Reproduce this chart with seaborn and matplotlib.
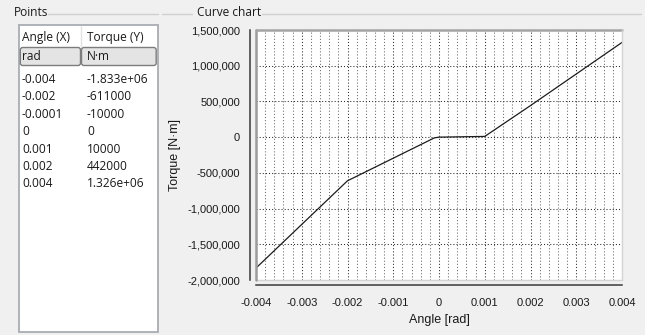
import matplotlib
matplotlib.use("Agg")
import matplotlib.pyplot as plt
from matplotlib.patches import Rectangle, FancyBboxPatch
from matplotlib.lines import Line2D
from matplotlib.ticker import MultipleLocator, FuncFormatter
from matplotlib.transforms import Affine2D
import pandas as pd
import seaborn as sns

# Torque curve points
angle = [-0.004, -0.002, -0.0001, 0, 0.001, 0.002, 0.004]
torque = [-1833000, -611000, -10000, 0, 10000, 442000, 1326000]

column_titles = ["Angle (X)", "Torque (Y)"]
column_units = ["rad", "N·m"]

x_ticks = [-0.004, -0.003, -0.002, -0.001, 0, 0.001, 0.002, 0.003, 0.004]
x_tick_labels = ["-0.004", "-0.003", "-0.002", "-0.001", "0",
                 "0.001", "0.002", "0.003", "0.004"]
y_ticks = [-2000000, -1500000, -1000000, -500000, 0, 500000, 1000000, 1500000]

W, H = 645, 335
sns.set_style("white")
plt.rcParams["font.family"] = ["Liberation Sans", "DejaVu Sans"]
UI_FONT = ["Open Sans", "DejaVu Sans"]
UI_SIZE = 8.6

fig = plt.figure(figsize=(W / 100, H / 100), dpi=100, facecolor="#f0f0f0")
# pixel coordinates measured from the top-left corner
pix = Affine2D().scale(1, -1).translate(0, H)


def ui_text(x, y, s, **kw):
    kw.setdefault("fontsize", UI_SIZE)
    kw.setdefault("family", UI_FONT)
    kw.setdefault("va", "center")
    kw.setdefault("color", "#1a1a1a")
    fig.text(x, y, s, transform=pix, **kw)


def ui_line(xs, ys, color, lw=1.0):
    fig.add_artist(Line2D(xs, ys, transform=pix, color=color, lw=lw))


# ---- group box headers ----
ui_text(14, 13, "Points")
ui_line([48, 158], [13.5, 13.5], "#d0d0d0")
ui_text(197, 13, "Curve chart")
ui_line([162, 192], [13.5, 13.5], "#d0d0d0")
ui_line([262, 641], [13.5, 13.5], "#d0d0d0")

# ---- points table ----
tx0, tx1, ty0, ty1 = 18.5, 158, 25, 332
col_x = [22, 87]
col_split = 81
fig.add_artist(Rectangle((tx0, ty0), tx1 - tx0, ty1 - ty0, transform=pix,
                         facecolor="white", edgecolor="#a9adb2", lw=1.3))
ui_line([col_split, col_split], [ty0 + 1, 47], "#e2e2e2")
for cx, title in zip(col_x, column_titles):
    ui_text(cx, 37.5, title)

unit_cells = [(19.8, col_split - 19.8), (col_split, tx1 - 1.3 - col_split)]
for (cx0, cw), tx, unit in zip(unit_cells, col_x, column_units):
    fig.add_artist(FancyBboxPatch((cx0 + 0.5, 47.5), cw - 1, 18,
                                  boxstyle="round,pad=0,rounding_size=2.5",
                                  transform=pix, facecolor="#e4e4e4",
                                  edgecolor="#7d7d7d", lw=1.0))
    ui_text(tx, 56.5, unit)


def fmt_angle(v):
    return f"{v:g}"


def fmt_torque(v):
    return f"{v:.3e}" if abs(v) >= 1e6 else f"{int(v)}"


row_y0, row_h = 79.5, 17.4
for i, (a, t) in enumerate(zip(angle, torque)):
    y = row_y0 + i * row_h
    ui_text(col_x[0], y, fmt_angle(a))
    ui_text(col_x[1], y, fmt_torque(t))

# ---- curve chart ----
L, R, T, B = 256, 622, 30, 280
ax = fig.add_axes([L / W, 1 - B / H, (R - L) / W, (B - T) / H])
ax.set_facecolor("white")

df = pd.DataFrame({"Angle": angle, "Torque": torque})
sns.lineplot(data=df, x="Angle", y="Torque", ax=ax, estimator=None,
             sort=False, color="#1c1c1c", linewidth=0.9, zorder=3)

ax.set_xlim(-0.004, 0.004)
ax.set_ylim(-2000000, 1500000)
ax.set_xticks(x_ticks, x_tick_labels)
ax.set_yticks(y_ticks)
ax.yaxis.set_major_formatter(FuncFormatter(lambda v, _: f"{int(round(v)):,}"))
ax.xaxis.set_minor_locator(MultipleLocator(0.0002))
ax.yaxis.set_minor_locator(MultipleLocator(100000))

ax.tick_params(axis="both", which="major", direction="out", length=5,
               width=1.1, color="#3a3a3a", labelsize=8, labelcolor="#1a1a1a")
ax.tick_params(axis="both", which="minor", direction="out", length=2.6,
               width=1.0, color="#3a3a3a")
ax.tick_params(axis="y", which="major", pad=2)
ax.tick_params(axis="x", which="major", pad=4)

ax.set_axisbelow(True)
dot = (0, (1, 2))
ax.grid(True, which="major", axis="both", color="#2a2a2a", ls=dot, lw=0.75)
ax.grid(True, which="minor", axis="x", color="#6a6a6a", ls=dot, lw=0.75)

# detached axis lines
ax.spines["left"].set_position(("outward", 4.5))
ax.spines["bottom"].set_position(("outward", 3.8))
for side in ("left", "bottom"):
    ax.spines[side].set_color("#3a3a3a")
    ax.spines[side].set_linewidth(1.1)
for side in ("top", "right"):
    ax.spines[side].set_visible(False)

# sunken plot-area frame
ax.add_artist(Line2D([0, 0], [0, 1], transform=ax.transAxes, color="#9c9c9c",
                     lw=1.8, clip_on=False, zorder=4))
ax.add_artist(Line2D([0, 1], [1, 1], transform=ax.transAxes, color="#a4a4a4",
                     lw=1.8, clip_on=False, zorder=4))
ax.add_artist(Line2D([1, 1], [0, 1], transform=ax.transAxes, color="#d4d4d4",
                     lw=1.0, clip_on=False, zorder=4))
ax.add_artist(Line2D([0, 1], [0, 0], transform=ax.transAxes, color="#d4d4d4",
                     lw=1.0, clip_on=False, zorder=2))

ax.set_xlabel("Angle [rad]", fontsize=9, color="#1a1a1a", va="center")
ax.xaxis.set_label_coords(0.5, (B - 320) / (B - T))
ax.set_ylabel("Torque [N·m]", fontsize=9, color="#1a1a1a", va="center")
ax.yaxis.set_label_coords((175 - L) / (R - L), 0.5)

fig.savefig("out.png", dpi=100, facecolor=fig.get_facecolor())
